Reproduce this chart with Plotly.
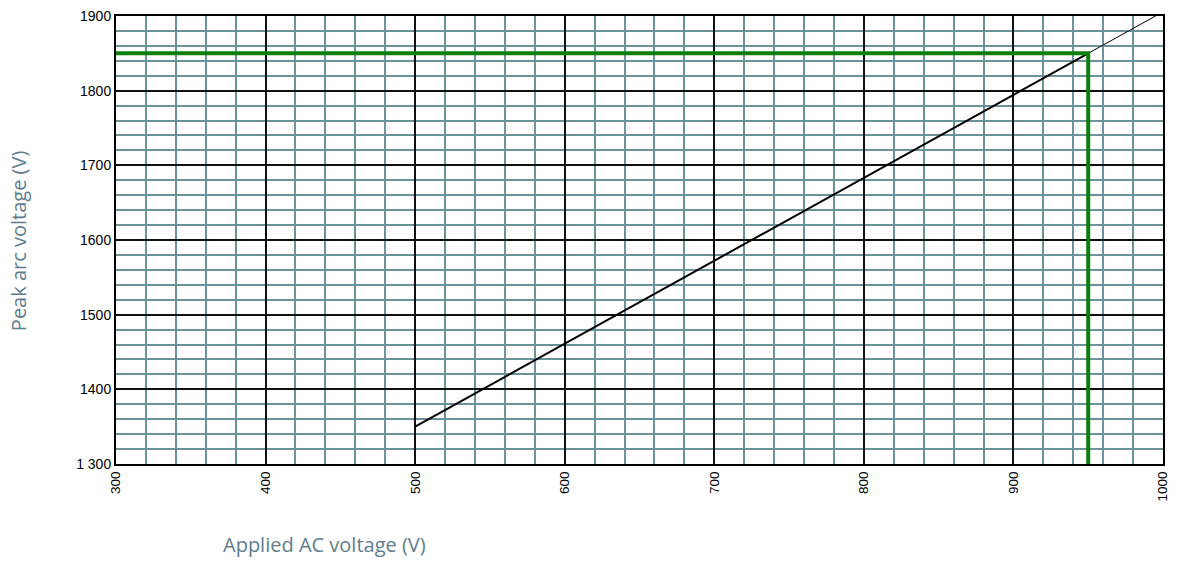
import plotly.graph_objects as go

# Data
curve_x = [500, 950]
curve_y = [1350, 1850]
ext_x = [950, 1000]
ext_y = [1850, 1905.6]
marker_x = [300, 950, 950]
marker_y = [1850, 1850, 1300]
x_range = [300, 1000]
y_range = [1300, 1900]
y_label_alias = {"1300": "1 300"}

fig = go.Figure()
fig.add_trace(go.Scatter(x=ext_x, y=ext_y, mode="lines",
                         line=dict(color="black", width=1), showlegend=False))
fig.add_trace(go.Scatter(x=curve_x, y=curve_y, mode="lines",
                         line=dict(color="black", width=2), showlegend=False))
fig.add_trace(go.Scatter(x=marker_x, y=marker_y, mode="lines",
                         line=dict(color="#0b7f0b", width=4), showlegend=False))

grid_minor = "#6b9299"
fig.update_xaxes(range=x_range, tickmode="linear", tick0=300, dtick=100,
                 tickangle=-90, showgrid=True, gridcolor="#111111", gridwidth=1.6,
                 minor=dict(tickmode="linear", tick0=300, dtick=20, showgrid=True,
                            gridcolor=grid_minor, gridwidth=1.6),
                 showline=True, linecolor="black", linewidth=2, mirror=True,
                 ticks="", zeroline=False,
                 tickfont=dict(family="Liberation Sans, Arial", size=13.5, color="black"))
fig.update_yaxes(range=y_range, tickmode="linear", tick0=1300, dtick=100,
                 labelalias=y_label_alias,
                 showgrid=True, gridcolor="#111111", gridwidth=1.6,
                 minor=dict(tickmode="linear", tick0=1300, dtick=20, showgrid=True,
                            gridcolor=grid_minor, gridwidth=1.6),
                 showline=True, linecolor="black", linewidth=2, mirror=True,
                 ticks="", zeroline=False,
                 tickfont=dict(family="Liberation Sans, Arial", size=14, color="black"))

W, H = 1178, 562
ML, MR, MT, MB = 116, 8, 15, 98
pw, ph = W - ML - MR, H - MT - MB
title_font = dict(family="Open Sans, sans-serif", size=20, color="#5e7d8d")
fig.add_annotation(text="Peak arc voltage (V)", xref="paper", yref="paper",
                   x=(18 - ML) / pw, y=(H - MB - 240) / ph, xanchor="center", yanchor="middle",
                   showarrow=False, textangle=-90, font=title_font)
fig.add_annotation(text="Applied AC voltage (V)", xref="paper", yref="paper",
                   x=(326 - ML) / pw, y=(H - MB - 545) / ph, xanchor="center", yanchor="middle",
                   showarrow=False, font=title_font)

fig.update_layout(width=W, height=H, margin=dict(l=ML, r=MR, t=MT, b=MB),
                  plot_bgcolor="white", paper_bgcolor="white")

fig.write_html("out.html", config={"displayModeBar": False},
               post_script="document.body.style.margin='0';document.body.style.overflow='hidden';")
